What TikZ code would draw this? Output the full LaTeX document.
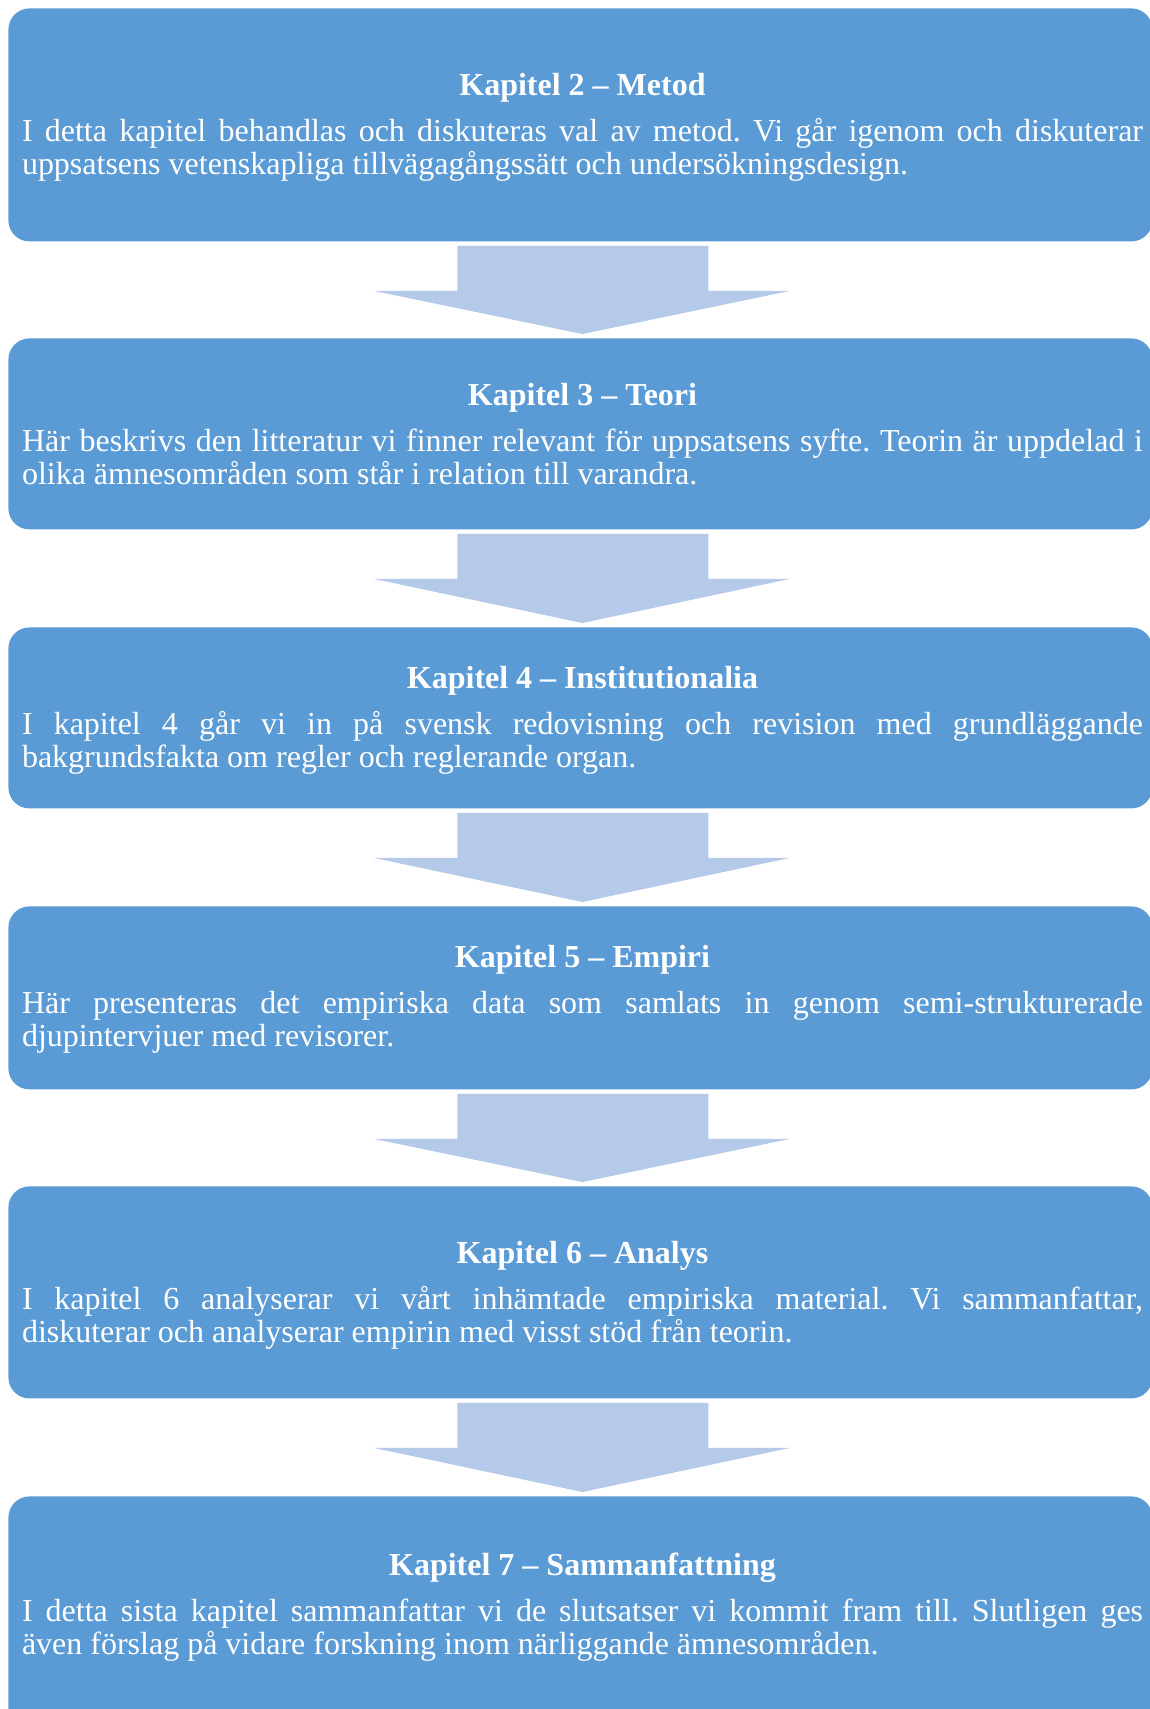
\documentclass[tikz,border=0pt]{standalone}
\usepackage{fontspec}
\setmainfont{Liberation Serif}
\usetikzlibrary{calc}
\definecolor{boxblue}{RGB}{91,155,213}
\definecolor{arrowblue}{RGB}{181,202,232}
\newlength{\bodywd}
\setlength{\bodywd}{560.5pt}
% title line, then normal interword spaces for the rest of the node
\newcommand{\kaptitle}[1]{\spaceskip=0pt\xspaceskip=0pt\frenchspacing\makebox[\bodywd]{\bfseries #1}\\[6.75pt]}
\newcommand{\fullline}[1]{\makebox[\bodywd][s]{#1}\\}
\tikzset{
	box/.style={fill=boxblue, rounded corners=10.5pt, anchor=north west, minimum width=572pt, inner sep=0pt},
	txt/.style={text=white, font=\fontsize{16pt}{16.5pt}\selectfont, text width=\bodywd, align=left, inner sep=0pt, anchor=base},
	flowarrow/.style={fill=arrowblue}
}
\begin{document}
\begin{tikzpicture}[x=0.5pt,y=-0.5pt]
	\useasboundingbox (0,0) rectangle (1150,1709);
	\clip (0,0) rectangle (1150,1709);
	% chapter boxes
	\node[box, minimum height=116.5pt] (metod) at (8,8) {};
	\node[box, minimum height=95.5pt] (teori) at (8,338) {};
	\node[box, minimum height=90.5pt] (inst) at (8,627) {};
	\node[box, minimum height=91.5pt] (empiri) at (8,906) {};
	\node[box, minimum height=106pt] (analys) at (8,1186) {};
	\node[box, minimum height=120pt] (samman) at (8,1496) {};
	% block arrows
	\foreach \a/\b in {metod/teori, teori/inst, inst/empiri, empiri/analys, analys/samman}{
		\fill[flowarrow] ($(\a.south)+(-123,4)$) -- ($(\a.south)+(128,4)$) -- ($(\a.south)+(128,49)$)
			-- ($(\a.south)+(210,49)$) -- ($(\b.north)+(2,-4)$) -- ($(\a.south)+(-207,49)$)
			-- ($(\a.south)+(-123,49)$) -- cycle;
	}
	% texts
	\node[txt] (metodtxt) at (582.5,95) {\kaptitle{Kapitel 2 – Metod}
		\fullline{I detta kapitel behandlas och diskuteras val av metod. Vi går igenom och diskuterar}
		uppsatsens vetenskapliga tillvägagångssätt och undersökningsdesign.};
	\node[txt] (teoritxt) at (582.5,405) {\kaptitle{Kapitel 3 – Teori}
		\fullline{Här beskrivs den litteratur vi finner relevant för uppsatsens syfte. Teorin är uppdelad i}
		olika ämnesområden som står i relation till varandra.};
	\node[txt] (insttxt) at (582.5,688) {\kaptitle{Kapitel 4 – Institutionalia}
		\fullline{I kapitel 4 går vi in på svensk redovisning och revision med grundläggande}
		bakgrundsfakta om regler och reglerande organ.};
	\node[txt] (empiritxt) at (582.5,967) {\kaptitle{Kapitel 5 – Empiri}
		\fullline{Här presenteras det empiriska data som samlats in genom semi-strukturerade}
		djupintervjuer med revisorer.};
	\node[txt] (analystxt) at (582.5,1263) {\kaptitle{Kapitel 6 – Analys}
		\fullline{I kapitel 6 analyserar vi vårt inhämtade empiriska material. Vi sammanfattar,}
		diskuterar och analyserar empirin med visst stöd från teorin.};
	\node[txt] (sammantxt) at (582.5,1575) {\kaptitle{Kapitel 7 – Sammanfattning}
		\fullline{I detta sista kapitel sammanfattar vi de slutsatser vi kommit fram till. Slutligen ges}
		även förslag på vidare forskning inom närliggande ämnesområden.};
\end{tikzpicture}
\end{document}
